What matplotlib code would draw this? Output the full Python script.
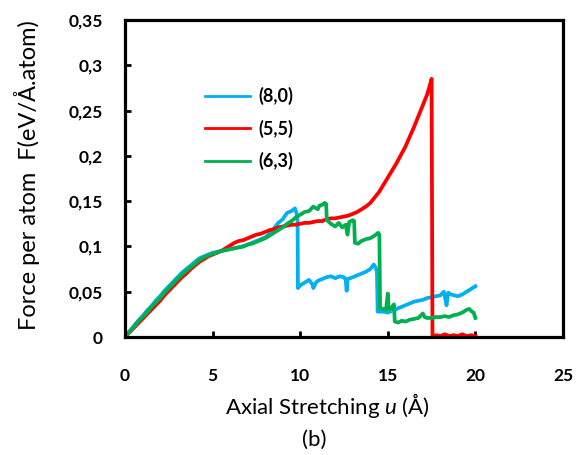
import matplotlib
matplotlib.use("Agg")
import matplotlib.pyplot as plt
from matplotlib.lines import Line2D

plt.rcParams['font.family'] = ['Lato', 'DejaVu Sans']
plt.rcParams['mathtext.fontset'] = 'custom'
plt.rcParams['mathtext.rm'] = 'Lato'
plt.rcParams['mathtext.it'] = 'Lato:italic'

series_names = ["(8,0)", "(5,5)", "(6,3)"]
colors = ["#00B0F0", "#FF0000", "#00B050"]

x_ticks = [0, 5, 10, 15, 20, 25]
y_ticks = [0, 0.05, 0.1, 0.15, 0.2, 0.25, 0.3, 0.35]
y_tick_labels = ["0", "0,05", "0,1", "0,15", "0,2", "0,25", "0,3", "0,35"]

# (8,0)
x_80 = [0, 0.25, 0.5, 0.75, 1.0, 1.25, 1.5, 1.75, 2.0, 2.25, 2.5, 2.75, 3.0, 3.25, 3.5, 3.75,
        4.0, 4.25, 4.5, 4.75, 5.0, 5.25, 5.5, 5.75, 6.0, 6.25, 6.5, 6.75, 7.0, 7.25, 7.5, 7.75,
        8.0, 8.25, 8.5, 8.75, 9.0, 9.25, 9.5, 9.7, 9.8, 9.85, 9.87, 10.0, 10.25, 10.5, 10.7,
        10.75, 10.9, 11.0, 11.25, 11.5, 11.75, 12.0, 12.25, 12.5, 12.6, 12.65, 12.7, 13.0, 13.25,
        13.5, 13.75, 14.0, 14.2, 14.3, 14.38, 14.42, 14.75, 15.0, 15.25, 15.5, 15.75, 16.0,
        16.25, 16.5, 16.75, 17.0, 17.25, 17.5, 17.75, 18.0, 18.2, 18.3, 18.35, 18.45, 18.6,
        18.8, 19.0, 19.25, 19.5, 19.75, 20.0]
y_80 = [0, 0.006, 0.012, 0.018, 0.023, 0.029, 0.034, 0.040, 0.045, 0.051, 0.056, 0.061, 0.066,
        0.071, 0.075, 0.079, 0.083, 0.087, 0.089, 0.091, 0.093, 0.094, 0.095, 0.096, 0.097,
        0.098, 0.099, 0.100, 0.102, 0.104, 0.106, 0.108, 0.110, 0.114, 0.120, 0.126, 0.130,
        0.137, 0.139, 0.142, 0.136, 0.128, 0.054, 0.057, 0.060, 0.063, 0.058, 0.054, 0.060,
        0.062, 0.064, 0.066, 0.067, 0.065, 0.067, 0.066, 0.063, 0.051, 0.064, 0.066, 0.068,
        0.070, 0.072, 0.075, 0.080, 0.077, 0.072, 0.028, 0.028, 0.027, 0.029, 0.031, 0.033,
        0.035, 0.037, 0.039, 0.040, 0.041, 0.043, 0.044, 0.045, 0.046, 0.050, 0.041, 0.035,
        0.049, 0.047, 0.046, 0.045, 0.047, 0.050, 0.053, 0.056]

# (5,5)
x_55 = [0, 0.25, 0.5, 0.75, 1.0, 1.25, 1.5, 1.75, 2.0, 2.25, 2.5, 2.75, 3.0, 3.25, 3.5, 3.75,
        4.0, 4.25, 4.5, 4.75, 5.0, 5.25, 5.5, 5.75, 6.0, 6.25, 6.5, 6.75, 7.0, 7.25, 7.5, 7.75,
        8.0, 8.25, 8.5, 8.75, 9.0, 9.25, 9.5, 9.75, 10.0, 10.25, 10.5, 10.75, 11.0, 11.25, 11.5,
        11.75, 12.0, 12.25, 12.5, 12.75, 13.0, 13.25, 13.5, 13.75, 14.0, 14.25, 14.5, 14.75,
        15.0, 15.25, 15.5, 15.75, 16.0, 16.25, 16.5, 16.75, 17.0, 17.25, 17.4, 17.5, 17.55,
        17.75, 18.0, 18.25, 18.5, 18.75, 19.0, 19.25, 19.5, 19.75, 20.0]
y_55 = [0, 0.005, 0.010, 0.015, 0.020, 0.025, 0.030, 0.035, 0.040, 0.046, 0.051, 0.056, 0.061,
        0.066, 0.070, 0.075, 0.079, 0.083, 0.086, 0.089, 0.091, 0.093, 0.095, 0.098, 0.101,
        0.104, 0.106, 0.107, 0.109, 0.111, 0.113, 0.114, 0.116, 0.118, 0.119, 0.121, 0.122,
        0.123, 0.124, 0.124, 0.125, 0.126, 0.126, 0.127, 0.128, 0.128, 0.130, 0.131, 0.131,
        0.132, 0.133, 0.134, 0.136, 0.138, 0.141, 0.144, 0.148, 0.154, 0.160, 0.168, 0.176,
        0.184, 0.192, 0.201, 0.210, 0.221, 0.232, 0.244, 0.256, 0.268, 0.278, 0.285, 0.0,
        0.002, 0.001, 0.003, 0.001, 0.002, 0.001, 0.003, 0.001, 0.002, 0.001]

# (6,3)
x_63 = [0, 0.25, 0.5, 0.75, 1.0, 1.25, 1.5, 1.75, 2.0, 2.25, 2.5, 2.75, 3.0, 3.25, 3.5, 3.75,
        4.0, 4.25, 4.5, 4.75, 5.0, 5.25, 5.5, 5.75, 6.0, 6.25, 6.5, 6.75, 7.0, 7.25, 7.5, 7.75,
        8.0, 8.25, 8.5, 8.75, 9.0, 9.25, 9.5, 9.75, 10.0, 10.25, 10.5, 10.75, 11.0, 11.1, 11.25,
        11.4, 11.48, 11.52, 11.75, 12.0, 12.2, 12.4, 12.6, 12.7, 12.8, 13.0, 13.08, 13.12, 13.3,
        13.5, 13.75, 14.0, 14.25, 14.45, 14.52, 14.56, 14.75, 14.9, 15.0, 15.05, 15.2, 15.35,
        15.4, 15.6, 15.8, 16.0, 16.25, 16.5, 16.75, 17.0, 17.1, 17.25, 17.5, 17.75, 18.0,
        18.25, 18.5, 18.75, 19.0, 19.25, 19.5, 19.65, 19.8, 19.9, 20.0]
y_63 = [0, 0.006, 0.011, 0.017, 0.022, 0.027, 0.033, 0.038, 0.043, 0.049, 0.054, 0.059, 0.064,
        0.069, 0.073, 0.077, 0.081, 0.085, 0.088, 0.090, 0.092, 0.093, 0.095, 0.096, 0.097,
        0.098, 0.099, 0.100, 0.102, 0.103, 0.105, 0.107, 0.109, 0.112, 0.115, 0.118, 0.121,
        0.125, 0.128, 0.132, 0.135, 0.138, 0.139, 0.144, 0.141, 0.145, 0.146, 0.148, 0.147,
        0.129, 0.125, 0.122, 0.126, 0.121, 0.124, 0.113, 0.127, 0.129, 0.128, 0.104, 0.103,
        0.106, 0.108, 0.109, 0.112, 0.115, 0.113, 0.031, 0.031, 0.030, 0.048, 0.031, 0.032,
        0.036, 0.017, 0.016, 0.018, 0.017, 0.019, 0.020, 0.021, 0.026, 0.022, 0.021, 0.021,
        0.022, 0.022, 0.023, 0.022, 0.024, 0.025, 0.027, 0.030, 0.031, 0.028, 0.027, 0.021]

W, H = 586, 455
fig = plt.figure(figsize=(W / 100, H / 100), dpi=100)
ax = fig.add_axes([125 / W, 1 - 337 / H, (563 - 125) / W, (337 - 20) / H])

data = [(x_80, y_80), (x_55, y_55), (x_63, y_63)]
zorders = [2, 3, 4]
for (xs, ys), c, z in zip(data, colors, zorders):
    ax.plot(xs, ys, color=c, lw=2.7, zorder=z, solid_joinstyle='round')

ax.set_xlim(0, 25)
ax.set_ylim(0, 0.35)
ax.set_xticks(x_ticks)
ax.set_xticklabels([str(t) for t in x_ticks])
ax.set_yticks(y_ticks)
ax.set_yticklabels(y_tick_labels)
for s in ax.spines.values():
    s.set_linewidth(2.3)
    s.set_color('black')
    s.set_zorder(5)
ax.tick_params(direction='in', length=4, width=2, labelsize=12.5, colors='black')
ax.tick_params(axis='y', pad=16)
ax.tick_params(axis='x', pad=22)
for lab in ax.get_xticklabels() + ax.get_yticklabels():
    lab.set_fontweight('bold')

handles = [Line2D([0], [0], color=c, lw=2) for c in colors]
leg = ax.legend(handles, series_names, loc='upper left', bbox_to_anchor=(80 / 438, 1 - 67 / 317),
                frameon=False, prop={'weight': 'bold', 'size': 13}, handlelength=2.5,
                handletextpad=0.45, labelspacing=0.8, borderaxespad=0, borderpad=0)

fig.text(27 / W, 1 - 175 / H, "Force per atom  F(eV/Å.atom)", rotation=90,
         ha='center', va='center', fontsize=17)
fig.text(327 / W, 1 - 405 / H, "Axial Stretching $\\it{u}$ (Å)", ha='center', va='center', fontsize=16)
fig.text(314 / W, 1 - 440 / H, "(b)", ha='center', va='center', fontsize=16)

fig.savefig("out.png", dpi=100)
